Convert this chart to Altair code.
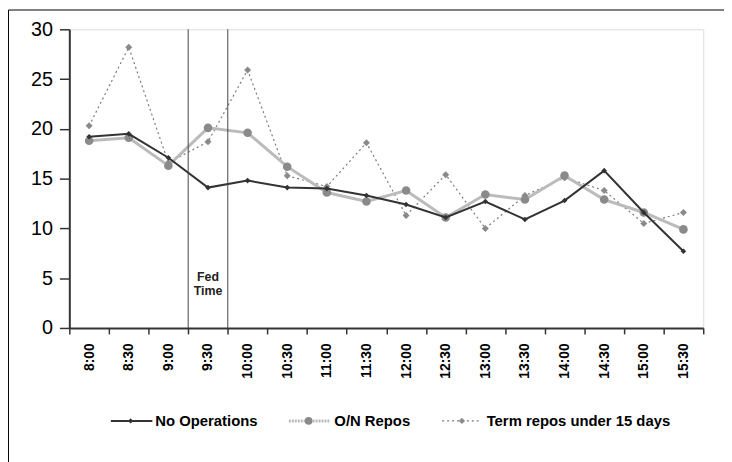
import altair as alt
import pandas as pd

times = ["8:00", "8:30", "9:00", "9:30", "10:00", "10:30", "11:00", "11:30",
         "12:00", "12:30", "13:00", "13:30", "14:00", "14:30", "15:00", "15:30"]
no_ops = [19.2, 19.5, 17.1, 14.1, 14.8, 14.1, 14.0, 13.3,
          12.4, 11.1, 12.7, 10.9, 12.8, 15.8, 11.6, 7.7]
on_repos = [18.8, 19.1, 16.3, 20.1, 19.6, 16.2, 13.6, 12.7,
            13.8, 11.1, 13.4, 12.9, 15.3, 12.9, 11.6, 9.9]
term_repos = [20.3, 28.2, 16.6, 18.7, 25.9, 15.3, 14.2, 18.6,
              11.3, 15.4, 10.0, 13.3, 15.1, 13.8, 10.5, 11.6]
series_names = ["No Operations", "O/N Repos", "Term repos under 15 days"]
fed_bounds = ["9:30", "10:00"]
fed_time = ["9:30"]
fed_label = ["Fed\nTime"]
y_ticks = [0, 5, 10, 15, 20, 25, 30]

FONT = "Liberation Sans"
W, H = 641, 302

df = pd.DataFrame({"time": times, "no": no_ops, "on": on_repos, "term": term_repos})

xsc = alt.Scale(type="band", domain=times, paddingInner=0, paddingOuter=0)
ysc = alt.Scale(domain=[0, 30], nice=False, zero=True)

x_axis = alt.Axis(title=None, labelAngle=-90, labelFont=FONT, labelFontWeight="bold",
                  labelFontSize=14, labelColor="#000", tickBand="extent", tickSize=6,
                  labelPadding=9, domainColor="#333", domainWidth=2, tickColor="#333",
                  tickWidth=1.5, grid=False, labelBaseline="middle")
y_axis = alt.Axis(title=None, values=y_ticks, labelFont=FONT, labelFontSize=20,
                  labelColor="#000", tickSize=10, labelPadding=7, domainColor="#333",
                  domainWidth=2, tickColor="#333", tickWidth=1.5, grid=False)


def X(**kw):
    return alt.X("time:N", scale=xsc, axis=x_axis, **kw)


def Y(field):
    return alt.Y(field + ":Q", scale=ysc, axis=y_axis)


base = alt.Chart(df)

term_line = base.mark_line(color="#7a7a7a", strokeWidth=1.2, strokeDash=[2, 3]).encode(
    x=X(), y=Y("term"))
term_pts = base.mark_point(shape="diamond", filled=True, color="#8a8a8a", size=50, opacity=1).encode(
    x=X(), y=Y("term"))
on_line = base.mark_line(color="#bbbbbb", strokeWidth=3).encode(x=X(), y=Y("on"))
on_pts = base.mark_circle(color="#8a8a8a", size=75, opacity=1).encode(x=X(), y=Y("on"))
no_line = base.mark_line(color="#333333", strokeWidth=2).encode(x=X(), y=Y("no"))
no_pts = base.mark_point(shape="diamond", filled=True, color="#333333", size=32, opacity=1).encode(
    x=X(), y=Y("no"))

fed_rules = alt.Chart(pd.DataFrame({"time": fed_bounds})).mark_rule(
    color="#444", strokeWidth=1).encode(
    x=X(bandPosition=0), y=alt.value(0), y2=alt.value(H))

fed_text = alt.Chart(pd.DataFrame({"time": fed_time, "label": fed_label})).mark_text(
    lineBreak="\n", font=FONT, fontWeight="bold", fontSize=12.5, lineHeight=14,
    baseline="top", align="center", color="#222").encode(
    x=X(), y=alt.value(245), text="label:N")

# outer frame (top and left edges visible)
frame_top = alt.Chart(pd.DataFrame({"a": [0]})).mark_rule(color="#000", strokeWidth=1).encode(
    x=alt.value(-61.5), x2=alt.value(W + 40), y=alt.value(-19.5))
frame_left = alt.Chart(pd.DataFrame({"a": [0]})).mark_rule(color="#000", strokeWidth=1).encode(
    x=alt.value(-61.5), y=alt.value(-19.5), y2=alt.value(H + 200))

# legend
LY = 396
leg_specs = [
    dict(x1=42, x2=84, xm=62, xt=87, color="#333333", width=2, dash=[1, 0],
         shape="diamond", mcolor="#333333", msize=28),
    dict(x1=222, x2=264, xm=242, xt=268, color="#bbbbbb", width=3, dash=[2, 1],
         shape="circle", mcolor="#8a8a8a", msize=60),
    dict(x1=377, x2=416, xm=397, xt=422, color="#7a7a7a", width=1.2, dash=[2, 3],
         shape="diamond", mcolor="#8a8a8a", msize=40),
]
legend_layers = []
for name, s in zip(series_names, leg_specs):
    ldf = pd.DataFrame({"name": [name]})
    legend_layers.append(alt.Chart(ldf).mark_rule(
        color=s["color"], strokeWidth=s["width"], strokeDash=s["dash"]).encode(
        x=alt.value(s["x1"]), x2=alt.value(s["x2"]), y=alt.value(LY)))
    legend_layers.append(alt.Chart(ldf).mark_point(
        shape=s["shape"], filled=True, color=s["mcolor"], size=s["msize"], opacity=1).encode(
        x=alt.value(s["xm"]), y=alt.value(LY)))
    legend_layers.append(alt.Chart(ldf).mark_text(
        align="left", baseline="middle", font=FONT, fontWeight="bold", fontSize=15,
        color="#000").encode(
        x=alt.value(s["xt"]), y=alt.value(LY), text="name:N"))

chart = alt.layer(
    term_line, term_pts, on_line, on_pts, no_line, no_pts,
    fed_rules, fed_text, frame_top, frame_left, *legend_layers
).properties(
    width=W, height=H,
    padding={"left": 62, "top": 19, "right": 21, "bottom": 133},
    autosize=alt.AutoSizeParams(type="none"),
).configure_view(
    stroke="#8a8a8a", strokeWidth=1.5
).configure(background="white")

chart.save("out.html", embed_options={"renderer": "svg", "actions": False})
